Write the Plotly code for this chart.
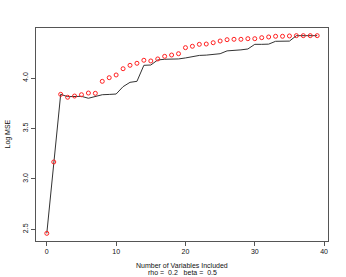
import plotly.graph_objects as go

n_vars = list(range(0, 40))
line_mse = [2.46, 3.17, 3.839, 3.816, 3.819, 3.819, 3.800, 3.820, 3.835, 3.838,
            3.842, 3.915, 3.958, 3.968, 4.127, 4.130, 4.180, 4.187, 4.187, 4.190,
            4.200, 4.215, 4.225, 4.228, 4.232, 4.242, 4.270, 4.272, 4.280, 4.289,
            4.335, 4.335, 4.337, 4.365, 4.366, 4.367, 4.421, 4.421, 4.421, 4.421]
point_mse = [2.46, 3.168, 3.839, 3.810, 3.822, 3.835, 3.852, 3.849, 3.968, 4.004,
             4.031, 4.093, 4.127, 4.147, 4.177, 4.170, 4.190, 4.216, 4.229, 4.242,
             4.302, 4.316, 4.335, 4.338, 4.351, 4.368, 4.381, 4.385, 4.385, 4.391,
             4.391, 4.401, 4.408, 4.415, 4.415, 4.418, 4.421, 4.421, 4.421, 4.421]
x_ticks = [0, 10, 20, 30, 40]
y_ticks = [2.5, 3.0, 3.5, 4.0]
x_title = "Number of Variables Included"
subtitle = "rho =  0.2   beta =  0.5"
y_title = "Log MSE"

FONT = "Liberation Sans, Arial, sans-serif"

fig = go.Figure()
fig.add_trace(go.Scatter(x=n_vars, y=line_mse, mode="lines",
                         line=dict(color="#333333", width=1), showlegend=False))
fig.add_trace(go.Scatter(x=n_vars, y=point_mse, mode="markers",
                         marker=dict(symbol="circle-open", size=4, color="#ff2020",
                                     line=dict(width=1, color="#ff2020")),
                         showlegend=False))

fig.update_layout(
    width=346, height=277,
    margin=dict(l=36, r=18, t=28, b=36, autoexpand=False),
    paper_bgcolor="white", plot_bgcolor="white",
    font=dict(family=FONT, size=7, color="#111111"),
    hovermode=False,
    xaxis=dict(range=[-1.56, 40.56], tickvals=x_ticks, ticks="outside", ticklen=4,
               tickcolor="#555555", showline=True, linecolor="#555555", linewidth=1,
               mirror=True, showgrid=False, zeroline=False, tickfont=dict(size=7),
               automargin=False),
    yaxis=dict(range=[2.384, 4.497], tickvals=y_ticks, tickformat=".1f",
               ticks="outside", ticklen=4, tickcolor="#555555", tickangle=-90,
               showline=True, linecolor="#555555", linewidth=1, mirror=True,
               showgrid=False, zeroline=False, tickfont=dict(size=7),
               automargin=False),
    annotations=[
        dict(text=x_title, xref="paper", yref="paper", x=0.5, y=0,
             yshift=-24, showarrow=False, font=dict(size=7), yanchor="middle"),
        dict(text=subtitle, xref="paper", yref="paper", x=0.5, y=0,
             yshift=-31, showarrow=False, font=dict(size=7), yanchor="middle"),
        dict(text=y_title, xref="paper", yref="paper", x=0, xshift=-29, y=0.5,
             showarrow=False, textangle=-90, font=dict(size=7), xanchor="center"),
    ],
)

fig.write_html("out.html", config={"displayModeBar": False},
               post_script="document.body.style.margin='0';")
